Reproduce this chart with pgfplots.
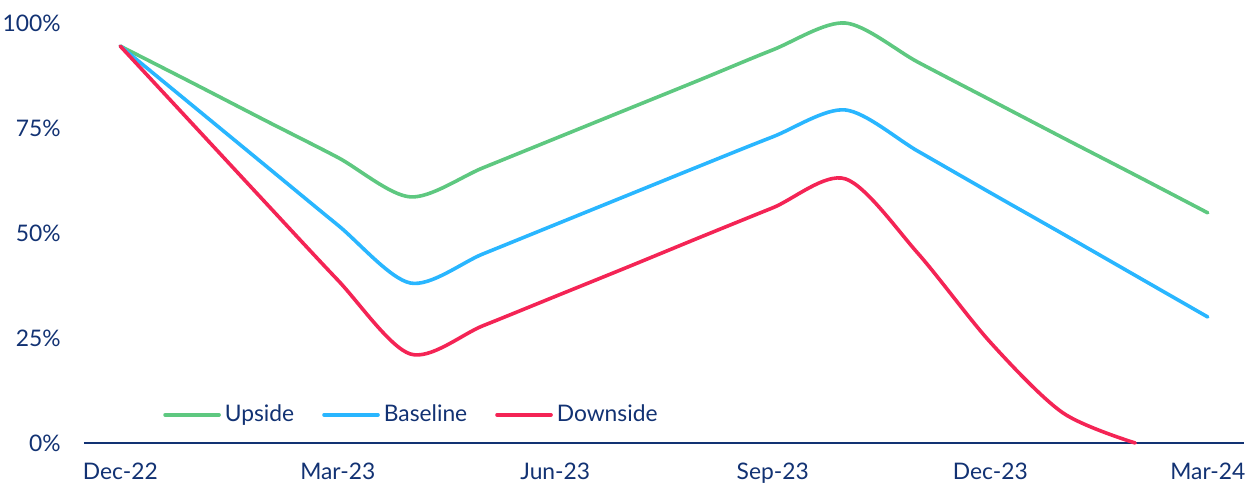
\documentclass[border=0pt]{standalone}
\usepackage{fontspec}
\setmainfont{Lato}
\usepackage{pgfplots}
\pgfplotsset{compat=1.18}
\definecolor{navy}{RGB}{18,50,115}
\definecolor{upg}{RGB}{94,200,128}
\definecolor{baseb}{RGB}{41,182,255}
\definecolor{downr}{RGB}{244,36,85}
\begin{document}
\begin{tikzpicture}
\useasboundingbox (-42pt,-20.5pt) rectangle (584pt,221.5pt);
\begin{axis}[
  at={(0,0)}, anchor=south west,
  scale only axis, width=580pt, height=210pt,
  xmin=-0.5, xmax=15.5, ymin=0, ymax=100,
  clip=false,
  axis x line*=bottom,
  axis y line*=left,
  x axis line style={navy, line width=1pt},
  y axis line style={draw=none},
  major tick length=0pt,
  tick style={draw=none},
  xtick={0,3,6,9,12,15},
  xticklabels={Dec-22,Mar-23,Jun-23,Sep-23,Dec-23,Mar-24},
  ytick={0,25,50,75,100},
  yticklabels={0\%,25\%,50\%,75\%,100\%},
  ticklabel style={font=\fontsize{11.4}{13}\selectfont, text=navy, inner sep=0pt},
  xticklabel style={anchor=north, yshift=-10pt},
  yticklabel style={anchor=east, xshift=-11.5pt},
  legend style={at={(0.068,0.067)}, anchor=west, draw=none, fill=none,
    inner sep=0pt, legend columns=-1, font=\fontsize{11.4}{13}\selectfont, text=navy,
    nodes={inner sep=2pt},
    /tikz/every even column/.append style={column sep=12pt}},
  legend image code/.code={\draw[#1, line width=1.8pt, line cap=round] (0pt,0pt) -- (27pt,0pt);},
  every axis plot/.append style={line width=1.8pt, line cap=round, line join=round, smooth, mark=none},
]
\addplot[color=upg] coordinates {
(0,94.5) (1,85.7) (2,76.8) (3,68) (4,58.6) (5,65.5) (6,72.5) (7,79.5) (8,86.5) (9,93.6) (10,100) (11,90.7) (12,81.7) (13,72.7) (14,63.8) (15,54.8)};
\addlegendentry{Upside}
\addplot[color=baseb] coordinates {
(0,94.5) (1,80.3) (2,66.1) (3,51.9) (4,38.1) (5,45) (6,52) (7,59) (8,66) (9,72.9) (10,79.3) (11,69.5) (12,59.6) (13,49.8) (14,39.9) (15,30)};
\addlegendentry{Baseline}
\addplot[color=downr] coordinates {
(0,94.5) (1,75.9) (2,57.3) (3,38.8) (4,21.2) (5,27.9) (6,34.9) (7,41.9) (8,49) (9,56) (10,62.9) (11,45.2) (12,24) (13,7.2) (14,0)};
\addlegendentry{Downside}
\end{axis}
\end{tikzpicture}
\end{document}
